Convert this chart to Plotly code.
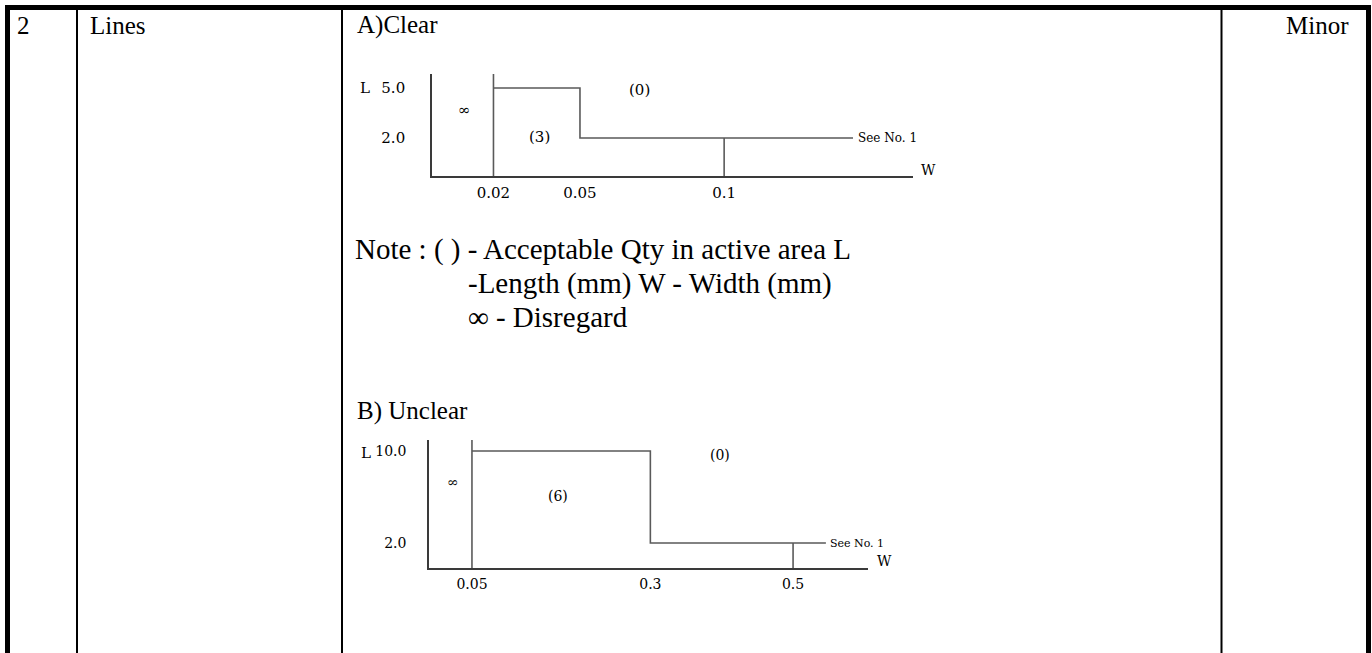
import plotly.graph_objects as go

# ---------------- data ----------------
# Table text
row_no = "2"
item = "Lines"
level = "Minor"
title_a = "A)Clear"
title_b = "B) Unclear"
note_lines = ["Note : ( ) - Acceptable Qty in active area L",
              "-Length (mm) W - Width (mm)",
              "\u221e - Disregard"]

# Chart A (Clear): width breakpoints (mm) and length limits (mm)
a_w = [0.02, 0.05, 0.1]
a_w_labels = ["0.02", "0.05", "0.1"]
a_L = [5.0, 2.0]
a_L_labels = ["5.0", "2.0"]
a_line_end = 0.1447
a_regions = ["\u221e", "(3)", "(0)"]
a_region_w = [0.0098, 0.0361, 0.0708]
a_region_L = [3.68, 2.06, 4.88]

# Chart B (Unclear)
b_w = [0.05, 0.3, 0.5]
b_w_labels = ["0.05", "0.3", "0.5"]
b_L = [10.0, 2.0]
b_L_labels = ["10.0", "2.0"]
b_line_end = 0.546
b_regions = ["\u221e", "(6)", "(0)"]
b_region_w = [0.0234, 0.1706, 0.398]
b_region_L = [7.3, 6.09, 9.65]

# ---------------- layout constants ----------------
W, H = 1372, 653
SERIF = "Liberation Serif, Times New Roman, serif"
CHART_FONT = "DejaVu Serif, Liberation Serif, serif"
LINE_COL = "#5a5a5a"
AXIS_COL = "#3a3a3a"

a_xrange = [-0.00132, 0.1655]
a_yrange = [-0.28, 5.84]
b_xrange = [-0.0102, 0.605]
b_yrange = [-0.174, 10.96]


def px_dom_x(x0, x1):
    return [x0 / W, x1 / W]


def px_dom_y(ytop, ybot):
    return [1 - ybot / H, 1 - ytop / H]


fig = go.Figure()


def step_traces(w, L, line_end, yrange, xa, ya):
    xs = [w[0], w[0], None, w[0], w[1], w[1], line_end, None, w[2], w[2]]
    ys = [yrange[0], yrange[1], None, L[0], L[0], L[1], L[1], None, L[1], yrange[0]]
    fig.add_trace(go.Scatter(x=xs, y=ys, mode="lines", xaxis=xa, yaxis=ya,
                             line=dict(color=LINE_COL, width=1.6),
                             hoverinfo="skip", showlegend=False))


step_traces(a_w, a_L, a_line_end, a_yrange, "x2", "y2")
step_traces(b_w, b_L, b_line_end, b_yrange, "x3", "y3")

fig.add_trace(go.Scatter(x=[0], y=[0], mode="markers", marker=dict(opacity=0),
                         hoverinfo="skip", showlegend=False))

shapes = []
shapes.append(dict(type="line", xref="x", yref="y", x0=5, x1=1371, y0=7.5, y1=7.5,
                   line=dict(color="black", width=5)))
shapes.append(dict(type="line", xref="x", yref="y", x0=7.5, x1=7.5, y0=5, y1=H,
                   line=dict(color="black", width=5)))
shapes.append(dict(type="line", xref="x", yref="y", x0=1368.5, x1=1368.5, y0=5, y1=H,
                   line=dict(color="black", width=5)))
for cx in [77, 342, 1221.5]:
    shapes.append(dict(type="line", xref="x", yref="y", x0=cx, x1=cx, y0=8, y1=H,
                       line=dict(color="black", width=2)))

ann = []


def txt(x, y, s, size=26, font=SERIF, xanchor="left", xref="x", yref="y"):
    ann.append(dict(x=x, y=y, xref=xref, yref=yref, text=s, showarrow=False,
                    xanchor=xanchor, yanchor="middle", borderpad=0,
                    font=dict(family=font, size=size, color="black")))


HF = 25
txt(16, 25, row_no, size=HF)
txt(89, 25, item, size=HF)
txt(356, 25, title_a, size=HF)
txt(1285, 25, level, size=HF)
NF = 29
txt(354, 249, note_lines[0], size=NF)
txt(467, 283, note_lines[1], size=NF)
txt(467, 317, note_lines[2], size=NF)
txt(356, 411, title_b, size=HF)

CS = 15
txt(359, 88, "L", size=CS, font=CHART_FONT)
txt(360, 453, "L", size=CS, font=CHART_FONT)
txt(920, 170, "W", size=CS - 1, font=CHART_FONT)
txt(876, 561, "W", size=CS - 1, font=CHART_FONT)
for s, w_, l_ in zip(a_regions, a_region_w, a_region_L):
    txt(w_, l_, s, size=CS, font=CHART_FONT, xanchor="center", xref="x2", yref="y2")
for s, w_, l_ in zip(b_regions, b_region_w, b_region_L):
    txt(w_, l_, s, size=CS - 1, font=CHART_FONT, xanchor="center", xref="x3", yref="y3")
txt(a_line_end + 0.0015, a_L[1], "See No. 1", size=12, font=CHART_FONT, xref="x2", yref="y2")
txt(b_line_end + 0.005, b_L[1], "See No. 1", size=11, font=CHART_FONT, xref="x3", yref="y3")

tickfont = dict(family=CHART_FONT, size=CS, color="black")

fig.update_layout(
    width=W, height=H, margin=dict(l=0, r=0, t=0, b=0),
    paper_bgcolor="white", plot_bgcolor="rgba(0,0,0,0)",
    showlegend=False,
    xaxis=dict(range=[0, W], domain=[0, 1], visible=False, fixedrange=True),
    yaxis=dict(range=[H, 0], domain=[0, 1], visible=False, fixedrange=True),
    xaxis2=dict(domain=px_dom_x(432, 913), anchor="y2", range=a_xrange,
                showline=True, linecolor=AXIS_COL, linewidth=1.6, showgrid=False,
                zeroline=False, tickmode="array", tickvals=a_w, ticktext=a_w_labels,
                ticks="", tickfont=tickfont, ticklabelstandoff=2),
    yaxis2=dict(domain=px_dom_y(74, 176), anchor="x2", range=a_yrange,
                showline=True, linecolor=AXIS_COL, linewidth=1.6, showgrid=False,
                zeroline=False, tickmode="array", tickvals=a_L, ticktext=a_L_labels,
                ticks="", tickfont=tickfont, ticklabelstandoff=22),
    xaxis3=dict(domain=px_dom_x(429, 868), anchor="y3", range=b_xrange,
                showline=True, linecolor=AXIS_COL, linewidth=1.6, showgrid=False,
                zeroline=False, tickmode="array", tickvals=b_w, ticktext=b_w_labels,
                ticks="", tickfont=dict(family=CHART_FONT, size=CS - 1, color="black"),
                ticklabelstandoff=2),
    yaxis3=dict(domain=px_dom_y(440, 568), anchor="x3", range=b_yrange,
                showline=True, linecolor=AXIS_COL, linewidth=1.6, showgrid=False,
                zeroline=False, tickmode="array", tickvals=b_L, ticktext=b_L_labels,
                ticks="", tickfont=dict(family=CHART_FONT, size=CS - 1, color="black"),
                ticklabelstandoff=18),
    shapes=shapes,
    annotations=ann,
)

fig.write_html("out.html", config={"displayModeBar": False},
               post_script="document.body.style.margin='0';document.body.style.padding='0';")
